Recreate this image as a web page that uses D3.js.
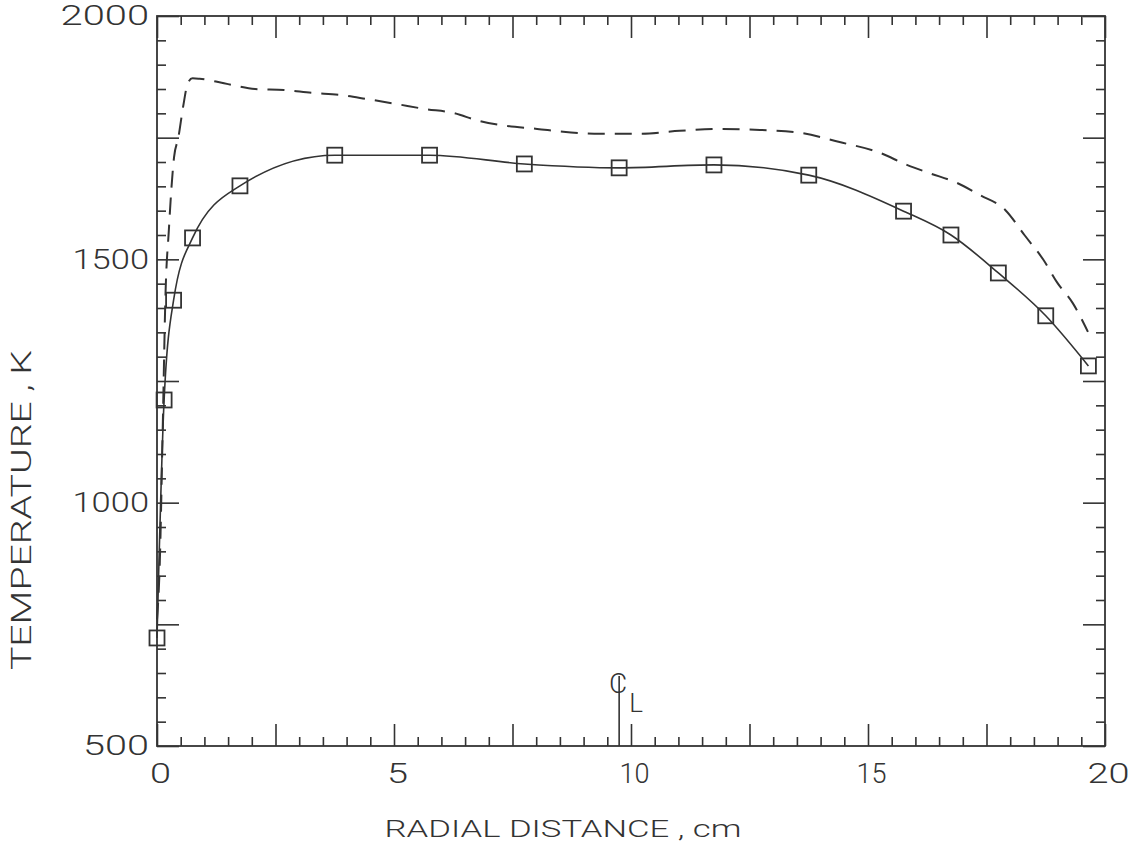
<!DOCTYPE html>
<html>
<head>
<meta charset="utf-8">
<script src="https://cdn.jsdelivr.net/npm/d3@7"></script>
<style>
  body { margin: 0; background: #fff; }
  svg { display: block; }
  text { font-family: Roboto, "DejaVu Sans", sans-serif; font-weight: 300; fill: #333; }
</style>
</head>
<body>
<svg id="chart" width="1129" height="844"></svg>
<script>
// ---- data ----
const xTickLabels = [0, 5, 10, 15, 20];
const yTickLabels = [500, 1000, 1500, 2000];

// solid curve with square markers (radial distance cm, temperature K)
const solidX = [0, 0.15, 0.35, 0.75, 1.75, 3.75, 5.75, 7.75, 9.75, 11.75, 13.75, 15.75, 16.75, 17.75, 18.75, 19.65];
const solidT = [722, 1211, 1416, 1544, 1651, 1714, 1714, 1696, 1688, 1694, 1673, 1599, 1550, 1472, 1384, 1281];

// dashed curve
const dashX = [0, 0.06, 0.12, 0.18, 0.25, 0.3, 0.36, 0.45, 0.55, 0.65, 0.75, 0.9, 1.5, 2.07, 2.68, 3.27, 3.86, 4.45, 5.06, 5.65, 6.24, 6.81, 7.4, 8.02, 8.57, 9.35, 10.2, 11.03, 11.88, 12.72, 13.57, 14.4, 15.25, 15.82, 16.3, 16.88, 17.36, 17.9, 18.3, 18.7, 19.0, 19.32, 19.64];
const dashT = [760, 880, 1150, 1430, 1560, 1640, 1710, 1750, 1813, 1862, 1872, 1871, 1860, 1850, 1848, 1842, 1838, 1829, 1819, 1809, 1801, 1784, 1774, 1768, 1762, 1758, 1758, 1764, 1768, 1766, 1760, 1741, 1719, 1694, 1677, 1657, 1632, 1601, 1550, 1499, 1451, 1410, 1351];

const centerlineX = 9.75;
const xTitle = "RADIAL DISTANCE , cm";
const yTitle = "TEMPERATURE , K";

// ---- layout ----
const ink = "#333";
const svg = d3.select("#chart");
const x = d3.scaleLinear().domain([0, 20]).range([157, 1105]);
const y = d3.scaleLinear().domain([500, 2000]).range([746, 16]);

const xMinor = d3.range(0, 20.001, 0.5).filter(v => Math.abs(v / 2.5 - Math.round(v / 2.5)) > 1e-6);
const xLong = d3.range(0, 20.001, 2.5);
const yMinor = d3.range(500, 2000.001, 50).filter(v => v % 250 !== 0);
const yLong = d3.range(500, 2000.001, 250);

const SHORT = 9, LONG = 22;

function styleAxis(g) {
  g.select(".domain").remove();
  g.selectAll("line").attr("stroke", ink).attr("stroke-width", 1.6);
}

// bottom ticks (inward)
svg.append("g").attr("transform", `translate(0,${y(500)})`)
  .call(d3.axisBottom(x).tickValues(xMinor).tickSize(-SHORT).tickFormat(""))
  .call(styleAxis);
svg.append("g").attr("transform", `translate(0,${y(500)})`)
  .call(d3.axisBottom(x).tickValues(xLong).tickSize(-LONG).tickFormat(""))
  .call(styleAxis);
// top ticks
svg.append("g").attr("transform", `translate(0,${y(2000)})`)
  .call(d3.axisTop(x).tickValues(xMinor).tickSize(-SHORT).tickFormat(""))
  .call(styleAxis);
svg.append("g").attr("transform", `translate(0,${y(2000)})`)
  .call(d3.axisTop(x).tickValues(xLong).tickSize(-LONG).tickFormat(""))
  .call(styleAxis);
// left ticks
svg.append("g").attr("transform", `translate(${x(0)},0)`)
  .call(d3.axisLeft(y).tickValues(yMinor).tickSize(-SHORT).tickFormat(""))
  .call(styleAxis);
svg.append("g").attr("transform", `translate(${x(0)},0)`)
  .call(d3.axisLeft(y).tickValues(yLong).tickSize(-LONG).tickFormat(""))
  .call(styleAxis);
// right ticks
svg.append("g").attr("transform", `translate(${x(20)},0)`)
  .call(d3.axisRight(y).tickValues(yMinor).tickSize(-SHORT).tickFormat(""))
  .call(styleAxis);
svg.append("g").attr("transform", `translate(${x(20)},0)`)
  .call(d3.axisRight(y).tickValues(yLong).tickSize(-LONG).tickFormat(""))
  .call(styleAxis);

// frame
svg.append("rect")
  .attr("x", x(0)).attr("y", y(2000))
  .attr("width", x(20) - x(0)).attr("height", y(500) - y(2000))
  .attr("fill", "none").attr("stroke", ink).attr("stroke-width", 1.8);

// tick labels
const widthOf = s => {
  let w = 0;
  for (const c of s) w += (c === "1") ? 9 : 21;
  return w;
};
const xl = svg.append("g").attr("transform", `translate(0,${y(500)})`)
  .call(d3.axisBottom(x).tickValues(xTickLabels).tickSize(0).tickPadding(17).tickFormat(d3.format("d")));
xl.select(".domain").remove();
xl.selectAll("text")
  .attr("font-size", 28).attr("fill", ink)
  .attr("dx", 3)
  .each(function(d) {
    const s = String(d);
    d3.select(this).attr("textLength", widthOf(s)).attr("lengthAdjust", "spacingAndGlyphs");
  });

const yl = svg.append("g").attr("transform", `translate(${x(0)},0)`)
  .call(d3.axisLeft(y).tickValues(yTickLabels).tickSize(0).tickPadding(8).tickFormat(d3.format("d")));
yl.select(".domain").remove();
yl.selectAll("text")
  .attr("font-size", 28).attr("fill", ink)
  .each(function(d) {
    const s = String(d);
    d3.select(this).attr("textLength", widthOf(s) + (s.length - 1) * 1.5).attr("lengthAdjust", "spacingAndGlyphs");
  });

// curves
const solid = solidX.map((v, i) => [v, solidT[i]]);
const dashed = dashX.map((v, i) => [v, dashT[i]]);
const line = d3.line().x(d => x(d[0])).y(d => y(d[1])).curve(d3.curveMonotoneX);

svg.append("path").datum(dashed)
  .attr("d", line).attr("fill", "none")
  .attr("stroke", ink).attr("stroke-width", 2)
  .attr("stroke-dasharray", "17,10");

svg.append("path").datum(solid)
  .attr("d", line).attr("fill", "none")
  .attr("stroke", ink).attr("stroke-width", 1.6);

const M = 15;
svg.append("g").selectAll("rect").data(solid).join("rect")
  .attr("x", d => x(d[0]) - M / 2).attr("y", d => y(d[1]) - M / 2)
  .attr("width", M).attr("height", M)
  .attr("fill", "none").attr("stroke", ink).attr("stroke-width", 1.8);

// centerline symbol
const cx = x(centerlineX);
svg.append("line")
  .attr("x1", cx).attr("x2", cx).attr("y1", y(500)).attr("y2", y(500) - 70)
  .attr("stroke", ink).attr("stroke-width", 1.6);
svg.append("text").attr("x", cx - 1).attr("y", y(500) - 53)
  .attr("text-anchor", "middle").attr("font-size", 28).attr("font-weight", 400).attr("fill", ink).text("C");
svg.append("text").attr("x", cx + 10).attr("y", y(500) - 34)
  .attr("font-size", 26).attr("fill", ink).text("L");

// axis titles
svg.append("text")
  .attr("x", 563).attr("y", 837)
  .attr("text-anchor", "middle").attr("font-size", 24)
  .attr("textLength", 357).attr("lengthAdjust", "spacingAndGlyphs")
  .text(xTitle);

svg.append("text")
  .attr("transform", `translate(31,510) rotate(-90)`)
  .attr("text-anchor", "middle").attr("font-size", 27)
  .attr("textLength", 320).attr("lengthAdjust", "spacingAndGlyphs")
  .text(yTitle);
</script>
</body>
</html>
